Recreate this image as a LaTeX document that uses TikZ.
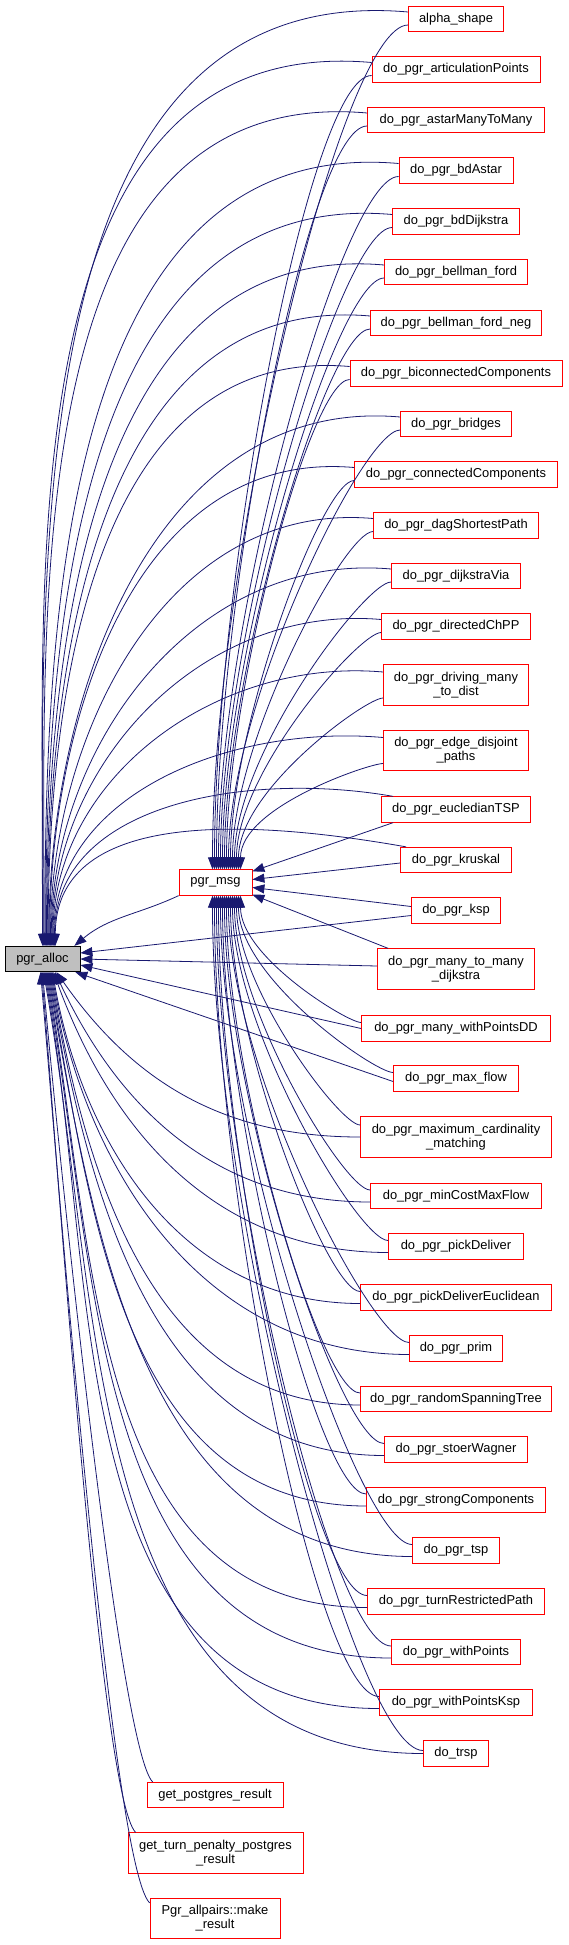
\documentclass[tikz,border=0pt]{standalone}
\usepackage{fontspec}
\setmainfont{Liberation Sans}
\usepackage{tikz}
\usetikzlibrary{arrows.meta}

\definecolor{callblue}{HTML}{191970}
\definecolor{boxred}{HTML}{FF0000}
\definecolor{curgray}{HTML}{BFBFBF}

\begin{document}
\begin{tikzpicture}[
  x=1pt, y=-1pt,
  fnbox/.style={draw=boxred, fill=white, line width=0.8pt, inner sep=0pt, minimum height=25.5pt, align=center, font=\fontsize{12.9pt}{14pt}\selectfont},
  twoline/.style={minimum height=40.5pt},
  curbox/.style={fnbox, draw=black, fill=curgray},
  call/.style={-{Triangle[length=12pt, width=9pt]}, callblue, line width=0.8pt},
  upA/.style={out=175, in=90},
  upM/.style={out=180, in=90, out looseness=0.2, in looseness=0.9},
  dnA/.style={out=180, in=-80},
  dnM/.style={out=180, in=-90, out looseness=0.2, in looseness=0.9},
  upleft/.style={out=135, in=-85, out looseness=0.15, in looseness=0.5}
]

\fill[white] (0,0) rectangle (568,1945);
\useasboundingbox (0,0) rectangle (568,1945);

% callees
\node[curbox, minimum width=75pt] (alloc) at (42.5,959) {pgr\_alloc};
\node[fnbox, minimum width=73pt] (msg) at (215.5,882.5) {pgr\_msg};

% === callers, right column ===
\node[fnbox, minimum width=95pt] (alpha) at (456,19) {alpha\_shape};
\node[fnbox, minimum width=168pt] (artic) at (456,69.5) {do\_pgr\_articulationPoints};
\node[fnbox, minimum width=177pt] (astar) at (456,120) {do\_pgr\_astarManyToMany};
\node[fnbox, minimum width=114pt] (bdastar) at (456,170.5) {do\_pgr\_bdAstar};
\node[fnbox, minimum width=127pt] (bddijk) at (456,221.5) {do\_pgr\_bdDijkstra};
\node[fnbox, minimum width=143pt] (bf) at (456,272) {do\_pgr\_bellman\_ford};
\node[fnbox, minimum width=171pt] (bfneg) at (456,323) {do\_pgr\_bellman\_ford\_neg};
\node[fnbox, minimum width=212pt] (bicon) at (456,373.5) {do\_pgr\_biconnectedComponents};
\node[fnbox, minimum width=111pt] (bridges) at (456,424) {do\_pgr\_bridges};
\node[fnbox, minimum width=203pt] (conn) at (456,474.5) {do\_pgr\_connectedComponents};
\node[fnbox, minimum width=165pt] (dag) at (456,525.5) {do\_pgr\_dagShortestPath};
\node[fnbox, minimum width=129pt] (dijvia) at (456,576) {do\_pgr\_dijkstraVia};
\node[fnbox, minimum width=149pt] (chpp) at (456,626.5) {do\_pgr\_directedChPP};
\node[fnbox, twoline, minimum width=145pt] (driving) at (456,685) {do\_pgr\_driving\_many\\\_to\_dist};
\node[fnbox, twoline, minimum width=145pt] (edj) at (456,750.5) {do\_pgr\_edge\_disjoint\\\_paths};
\node[fnbox, minimum width=149pt] (etsp) at (456,809.5) {do\_pgr\_eucledianTSP};
\node[fnbox, minimum width=111pt] (kruskal) at (456,860) {do\_pgr\_kruskal};
\node[fnbox, minimum width=89pt] (ksp) at (456,910.5) {do\_pgr\_ksp};
\node[fnbox, twoline, minimum width=157pt] (m2m) at (456,969) {do\_pgr\_many\_to\_many\\\_dijkstra};
\node[fnbox, minimum width=189pt] (mwp) at (456,1028.5) {do\_pgr\_many\_withPointsDD};
\node[fnbox, minimum width=125pt] (maxflow) at (456,1078.5) {do\_pgr\_max\_flow};
\node[fnbox, twoline, minimum width=191pt] (mcm) at (456,1137) {do\_pgr\_maximum\_cardinality\\\_matching};
\node[fnbox, minimum width=171pt] (mcmf) at (456,1196) {do\_pgr\_minCostMaxFlow};
\node[fnbox, minimum width=135pt] (pick) at (456,1246.5) {do\_pgr\_pickDeliver};
\node[fnbox, minimum width=191pt] (picke) at (456,1297.5) {do\_pgr\_pickDeliverEuclidean};
\node[fnbox, minimum width=93pt] (prim) at (456,1348.5) {do\_pgr\_prim};
\node[fnbox, minimum width=191pt] (rst) at (456,1399) {do\_pgr\_randomSpanningTree};
\node[fnbox, minimum width=143pt] (stoer) at (456,1449.5) {do\_pgr\_stoerWagner};
\node[fnbox, minimum width=179pt] (strong) at (456,1500) {do\_pgr\_strongComponents};
\node[fnbox, minimum width=87pt] (tsp) at (456,1550.5) {do\_pgr\_tsp};
\node[fnbox, minimum width=177pt] (trp) at (456,1601.5) {do\_pgr\_turnRestrictedPath};
\node[fnbox, minimum width=129pt] (wp) at (456,1652) {do\_pgr\_withPoints};
\node[fnbox, minimum width=153pt] (wpksp) at (456,1702.5) {do\_pgr\_withPointsKsp};
\node[fnbox, minimum width=65pt] (trsp) at (456,1753.5) {do\_trsp};

% === callers, bottom ===
\node[fnbox, minimum width=136pt] (gpr) at (215,1795) {get\_postgres\_result};
\node[fnbox, twoline, minimum width=175pt] (gtp) at (215.5,1853) {get\_turn\_penalty\_postgres\\\_result};
\node[fnbox, twoline, minimum width=130pt] (pap) at (215,1918.5) {Pgr\_allpairs::make\\\_result};

% pgr_msg -> pgr_alloc
\draw[call] (msg.south west) to[out=205, in=40] ([xshift=-6pt]alloc.north east);

% calls into pgr_alloc from above
\draw[call] ([yshift=7pt]alpha.west) to[upA] (alloc.north);
\draw[call] ([yshift=7pt]artic.west) to[upA] ([xshift=0.8pt]alloc.north);
\draw[call] ([yshift=7pt]astar.west) to[upA] ([xshift=1.6pt]alloc.north);
\draw[call] ([yshift=7pt]bdastar.west) to[upA] ([xshift=2.4pt]alloc.north);
\draw[call] ([yshift=7pt]bddijk.west) to[upA] ([xshift=3.2pt]alloc.north);
\draw[call] ([yshift=7pt]bf.west) to[upA] ([xshift=4pt]alloc.north);
\draw[call] ([yshift=7pt]bfneg.west) to[upA] ([xshift=4.8pt]alloc.north);
\draw[call] ([yshift=7pt]bicon.west) to[upA] ([xshift=5.6pt]alloc.north);
\draw[call] ([yshift=7pt]bridges.west) to[upA] ([xshift=6.4pt]alloc.north);
\draw[call] ([yshift=7pt]conn.west) to[upA] ([xshift=7.2pt]alloc.north);
\draw[call] ([yshift=7pt]dag.west) to[upA] ([xshift=8pt]alloc.north);
\draw[call] ([yshift=7pt]dijvia.west) to[upA] ([xshift=8.8pt]alloc.north);
\draw[call] ([yshift=7pt]chpp.west) to[upA] ([xshift=9.6pt]alloc.north);
\draw[call] ([yshift=13pt]driving.west) to[upA] ([xshift=10.4pt]alloc.north);
\draw[call] ([yshift=13pt]edj.west) to[upA] ([xshift=11.2pt]alloc.north);
\draw[call] ([xshift=12pt]etsp.north west) to[upA, out=170] ([xshift=12pt]alloc.north);
\draw[call] ([xshift=6pt]kruskal.north west) to[upA, out=170] ([xshift=12.8pt]alloc.north);

% calls into pgr_alloc from the side
\draw[call] ([yshift=-5pt]ksp.west) -- ([yshift=6pt]alloc.east);
\draw[call] ([yshift=3pt]m2m.west) -- (alloc.east);
\draw[call] (mwp.west) -- ([yshift=-6pt]alloc.east);
\draw[call] ([yshift=-3pt]maxflow.west) -- ([xshift=-5pt]alloc.south east);

% calls into pgr_alloc from below
\draw[call] (mcm.west) to[dnA, in=-55] ([xshift=14pt]alloc.south);
\draw[call] ([yshift=-6pt]mcmf.west) to[dnA, in=-65] ([xshift=12.5pt]alloc.south);
\draw[call] ([yshift=-6pt]pick.west) to[dnA, in=-70] ([xshift=11pt]alloc.south);
\draw[call] ([yshift=-6pt]picke.west) to[dnA] ([xshift=10pt]alloc.south);
\draw[call] ([yshift=-6pt]prim.west) to[dnA] ([xshift=9pt]alloc.south);
\draw[call] ([yshift=-6pt]rst.west) to[dnA] ([xshift=8pt]alloc.south);
\draw[call] ([yshift=-6pt]stoer.west) to[dnA] ([xshift=7pt]alloc.south);
\draw[call] ([yshift=-6pt]strong.west) to[dnA] ([xshift=6pt]alloc.south);
\draw[call] ([yshift=-6pt]tsp.west) to[dnA] ([xshift=5pt]alloc.south);
\draw[call] ([yshift=-6pt]trp.west) to[dnA] ([xshift=4pt]alloc.south);
\draw[call] ([yshift=-6pt]wp.west) to[dnA] ([xshift=3pt]alloc.south);
\draw[call] ([yshift=-6pt]wpksp.west) to[dnA] ([xshift=2pt]alloc.south);
\draw[call] (trsp.west) to[dnA] ([xshift=1pt]alloc.south);
\draw[call] ([xshift=6pt]gpr.north west) to[upleft] (alloc.south);
\draw[call] ([xshift=8pt]gtp.north west) to[upleft] ([xshift=-1pt]alloc.south);
\draw[call] ([yshift=-5pt]pap.north west) to[upleft] ([xshift=-2pt]alloc.south);

% calls into pgr_msg from above
\draw[call] ([yshift=-6pt]alpha.west) to[upM] ([xshift=-3pt]msg.north);
\draw[call] ([yshift=-6pt]artic.west) to[upM] ([xshift=-1pt]msg.north);
\draw[call] ([yshift=-6pt]astar.west) to[upM] ([xshift=1pt]msg.north);
\draw[call] ([yshift=-6pt]bdastar.west) to[upM] ([xshift=3pt]msg.north);
\draw[call] ([yshift=-6pt]bddijk.west) to[upM] ([xshift=5pt]msg.north);
\draw[call] ([yshift=-6pt]bf.west) to[upM] ([xshift=7pt]msg.north);
\draw[call] ([yshift=-6pt]bfneg.west) to[upM] ([xshift=9pt]msg.north);
\draw[call] ([yshift=-6pt]bicon.west) to[upM] ([xshift=11pt]msg.north);
\draw[call] ([yshift=-6pt]bridges.west) to[upM] ([xshift=13pt]msg.north);
\draw[call] ([yshift=-6pt]conn.west) to[upM] ([xshift=15pt]msg.north);
\draw[call] ([yshift=-6pt]dag.west) to[upM] ([xshift=17pt]msg.north);
\draw[call] ([yshift=-6pt]dijvia.west) to[upM] ([xshift=19pt]msg.north);
\draw[call] ([yshift=-6pt]chpp.west) to[upM] ([xshift=21pt]msg.north);
\draw[call] ([yshift=-13pt]driving.west) to[upM] ([xshift=23pt]msg.north);
\draw[call] ([yshift=-13pt]edj.west) to[upM] ([xshift=25pt]msg.north);

% calls into pgr_msg from the side
\draw[call] ([xshift=12pt]etsp.south west) -- ([yshift=-2pt]msg.north east);
\draw[call] ([yshift=-3pt]kruskal.west) -- ([yshift=3pt]msg.east);
\draw[call] ([yshift=4pt]ksp.west) -- ([yshift=-5pt]msg.east);
\draw[call] ([xshift=11pt]m2m.north west) -- ([yshift=1pt]msg.south east);

% calls into pgr_msg from below
\draw[call] ([yshift=6pt]mwp.west) to[dnM] ([xshift=25pt]msg.south);
\draw[call] ([yshift=6pt]maxflow.west) to[dnM] ([xshift=23pt]msg.south);
\draw[call] ([yshift=12pt]mcm.west) to[dnM] ([xshift=21pt]msg.south);
\draw[call] ([yshift=6pt]mcmf.west) to[dnM] ([xshift=19pt]msg.south);
\draw[call] ([yshift=6pt]pick.west) to[dnM] ([xshift=17pt]msg.south);
\draw[call] ([yshift=6pt]picke.west) to[dnM] ([xshift=15pt]msg.south);
\draw[call] ([yshift=6pt]prim.west) to[dnM] ([xshift=13pt]msg.south);
\draw[call] ([yshift=6pt]rst.west) to[dnM] ([xshift=11pt]msg.south);
\draw[call] ([yshift=6pt]stoer.west) to[dnM] ([xshift=9pt]msg.south);
\draw[call] ([yshift=6pt]strong.west) to[dnM] ([xshift=7pt]msg.south);
\draw[call] ([yshift=6pt]tsp.west) to[dnM] ([xshift=5pt]msg.south);
\draw[call] ([yshift=6pt]trp.west) to[dnM] ([xshift=3pt]msg.south);
\draw[call] ([yshift=6pt]wp.west) to[dnM] ([xshift=1pt]msg.south);
\draw[call] ([yshift=6pt]wpksp.west) to[dnM] ([xshift=-1pt]msg.south);
\draw[call] ([yshift=3pt]trsp.west) to[dnM] ([xshift=-3pt]msg.south);

\end{tikzpicture}
\end{document}
